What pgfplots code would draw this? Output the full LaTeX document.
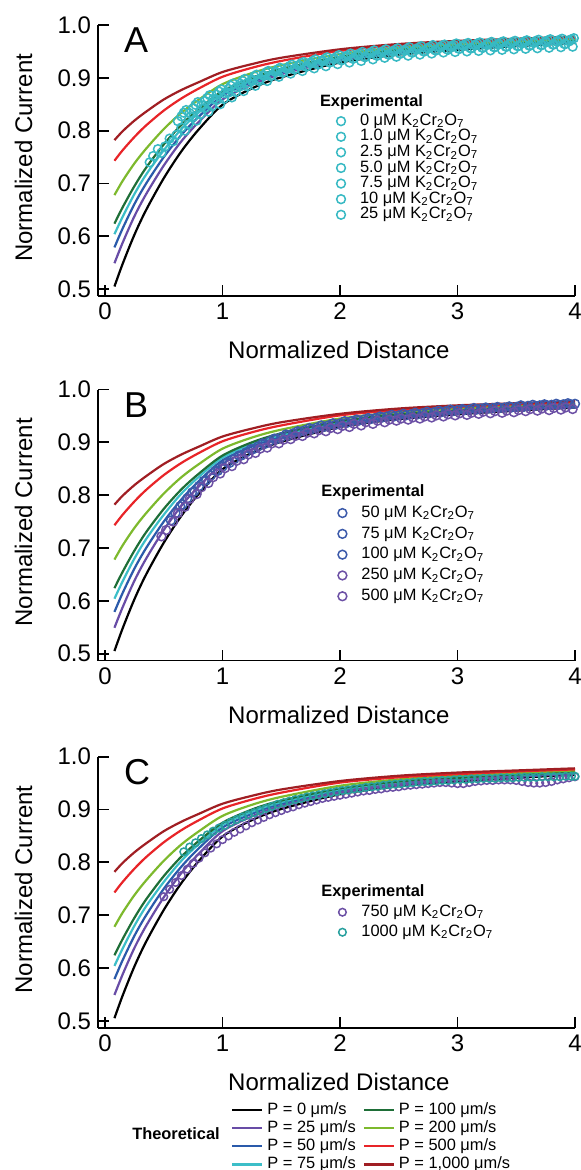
\documentclass[border=0pt]{standalone}
\usepackage{fontspec}
\setmainfont{Liberation Sans}
\usepackage{pgfplots}
\pgfplotsset{compat=1.18}
\usepackage{pgfplotstable}

\definecolor{cP25}{RGB}{104,76,166}
\definecolor{cP50}{RGB}{42,90,170}
\definecolor{cP75}{RGB}{60,190,200}
\definecolor{cP100}{RGB}{30,110,55}
\definecolor{cP200}{RGB}{125,185,45}
\definecolor{cP500}{RGB}{232,36,40}
\definecolor{cP1000}{RGB}{160,30,35}
\definecolor{cyanexp}{RGB}{55,185,195}
\definecolor{blueexp}{RGB}{60,90,170}
\definecolor{purpexp}{RGB}{108,80,165}
\definecolor{tealexp}{RGB}{40,160,158}

\newcommand{\kc}{K\textsubscript{2}Cr\textsubscript{2}O\textsubscript{7}}

\pgfplotstableread{
x     p0    p25   p50   p75   p100  p200  p500  p1000
0.08  0.505 0.549 0.579 0.604 0.624 0.678 0.743 0.782
0.15  0.548 0.588 0.615 0.637 0.655 0.705 0.763 0.799
0.25  0.603 0.638 0.661 0.680 0.695 0.738 0.788 0.819
0.35  0.650 0.680 0.700 0.717 0.730 0.766 0.810 0.836
0.50  0.710 0.734 0.750 0.763 0.774 0.803 0.838 0.859
0.65  0.761 0.780 0.792 0.803 0.811 0.834 0.861 0.877
0.80  0.803 0.817 0.827 0.835 0.841 0.859 0.880 0.892
1.00  0.849 0.859 0.866 0.871 0.875 0.888 0.902 0.911
1.25  0.880 0.887 0.892 0.896 0.900 0.909 0.919 0.926
1.50  0.901 0.907 0.911 0.914 0.917 0.924 0.932 0.938
2.00  0.929 0.933 0.936 0.938 0.940 0.945 0.951 0.954
2.50  0.944 0.947 0.949 0.951 0.953 0.957 0.961 0.964
3.00  0.953 0.956 0.958 0.959 0.960 0.964 0.967 0.970
3.50  0.960 0.962 0.964 0.965 0.966 0.969 0.972 0.974
4.00  0.966 0.968 0.969 0.970 0.971 0.974 0.976 0.978
}\theory

\pgfplotsset{
  panel/.style={
    scale only axis, width=238.5pt, height=135.5pt,
    xmin=-0.06, xmax=4, ymin=0.487, ymax=1.0,
    axis x line*=bottom, axis y line*=left,
    axis line style={line width=0.9pt,-},
    tick align=inside, major tick length=5.5pt,
    tick style={line width=0.9pt, black},
    xtick={0,1,2,3,4}, ytick={0.5,0.6,0.7,0.8,0.9,1.0},
    y tick label style={/pgf/number format/.cd, fixed, fixed zerofill, precision=1, /tikz/.cd},
    /pgf/number format/assume math mode=true,
    tick label style={font=\fontsize{12}{14}\selectfont},
    xlabel={Normalized Distance}, ylabel={Normalized Current},
    label style={font=\fontsize{12}{14}\selectfont},
    xlabel style={at={(axis description cs:0.505,-0.2)}, anchor=center},
    ylabel style={at={(axis description cs:-0.156,0.51)}, anchor=center},
    clip=false,
    legend cell align=left,
    legend style={draw=none, fill=none, inner sep=0pt,
      font=\fontsize{8.2}{9}\selectfont,
      nodes={inner xsep=2pt, inner ysep=0pt, text height=6pt, text depth=1.8pt}},
  },
  exp/.style={only marks, mark=o, mark size=2.2pt, mark options={line width=0.75pt}, color=#1,
    legend image code/.code={\path[draw=none, fill=none] (0pt,-2pt) rectangle (11.5pt,2pt);
      \draw[mark repeat=2,mark phase=2,##1] plot coordinates {(0pt,0pt) (4pt,0pt) (11.5pt,0pt)};}},
}

\newcommand{\theorycurves}{%
  \addplot[black, line width=1.1pt, smooth, forget plot] table[x=x,y=p0]{\theory};
  \addplot[cP25, line width=1.1pt, smooth, forget plot] table[x=x,y=p25]{\theory};
  \addplot[cP50, line width=1.1pt, smooth, forget plot] table[x=x,y=p50]{\theory};
  \addplot[cP75, line width=1.1pt, smooth, forget plot] table[x=x,y=p75]{\theory};
  \addplot[cP100, line width=1.1pt, smooth, forget plot] table[x=x,y=p100]{\theory};
  \addplot[cP200, line width=1.1pt, smooth, forget plot] table[x=x,y=p200]{\theory};
  \addplot[cP500, line width=1.1pt, smooth, forget plot] table[x=x,y=p500]{\theory};
  \addplot[cP1000, line width=1.1pt, smooth, forget plot] table[x=x,y=p1000]{\theory};
}

\begin{document}
\begin{tikzpicture}
\path[use as bounding box] (0pt,0pt) rectangle (290pt,-585pt);

% ---------------- Panel A ----------------
\begin{axis}[panel, at={(49pt,-148pt)}, anchor=south west,
  legend style={at={(axis cs:1.937,0.863)}, anchor=north west, row sep=0pt}]
\theorycurves
\addlegendimage{empty legend}
\addlegendentry{\hspace{-20pt}\raisebox{1.8pt}{\textbf{Experimental}}}
\addplot[exp=cyanexp] coordinates {(0.38,0.740) (0.48,0.758) (0.58,0.780) (0.68,0.800) (0.78,0.819) (0.88,0.836) (0.98,0.850) (1.08,0.863) (1.18,0.875) (1.28,0.885) (1.38,0.894) (1.48,0.902) (1.58,0.908) (1.68,0.913) (1.78,0.918) (1.88,0.922) (1.98,0.926) (2.08,0.929) (2.18,0.932) (2.28,0.935) (2.38,0.938) (2.48,0.940) (2.58,0.942) (2.68,0.944) (2.78,0.946) (2.88,0.948) (2.98,0.949) (3.08,0.950) (3.18,0.951) (3.28,0.952) (3.38,0.953) (3.48,0.954) (3.58,0.955) (3.68,0.956) (3.78,0.957) (3.88,0.958) (3.98,0.959)};
\addlegendentry{0 μM \kc}
\addplot[exp=cyanexp] coordinates {(0.41,0.752) (0.51,0.770) (0.61,0.792) (0.71,0.812) (0.81,0.831) (0.91,0.846) (1.01,0.860) (1.11,0.873) (1.21,0.884) (1.31,0.894) (1.41,0.903) (1.51,0.910) (1.61,0.916) (1.71,0.921) (1.81,0.925) (1.91,0.929) (2.01,0.933) (2.11,0.936) (2.21,0.939) (2.31,0.942) (2.41,0.944) (2.51,0.946) (2.61,0.948) (2.71,0.950) (2.81,0.952) (2.91,0.954) (3.01,0.955) (3.11,0.956) (3.21,0.957) (3.31,0.958) (3.41,0.959) (3.51,0.960) (3.61,0.961) (3.71,0.962) (3.81,0.963) (3.91,0.964)};
\addlegendentry{1.0 μM \kc}
\addplot[exp=cyanexp] coordinates {(0.45,0.765) (0.55,0.785) (0.65,0.806) (0.75,0.826) (0.85,0.843) (0.95,0.858) (1.05,0.872) (1.15,0.884) (1.25,0.894) (1.35,0.904) (1.45,0.912) (1.55,0.918) (1.65,0.924) (1.75,0.929) (1.85,0.933) (1.95,0.937) (2.05,0.941) (2.15,0.944) (2.25,0.947) (2.35,0.949) (2.45,0.951) (2.55,0.953) (2.65,0.955) (2.75,0.957) (2.85,0.959) (2.95,0.961) (3.05,0.962) (3.15,0.963) (3.25,0.964) (3.35,0.965) (3.45,0.966) (3.55,0.967) (3.65,0.968) (3.75,0.969) (3.85,0.970) (3.95,0.971)};
\addlegendentry{2.5 μM \kc}
\addplot[exp=cyanexp] coordinates {(0.62,0.818) (0.72,0.833) (0.82,0.848) (0.92,0.860) (1.02,0.871) (1.12,0.882) (1.22,0.891) (1.32,0.898) (1.42,0.905) (1.52,0.911) (1.62,0.917) (1.72,0.922) (1.82,0.926) (1.92,0.930) (2.02,0.934) (2.12,0.937) (2.22,0.940) (2.32,0.942) (2.42,0.944) (2.52,0.946) (2.62,0.948) (2.72,0.950) (2.82,0.952) (2.92,0.953) (3.02,0.955) (3.12,0.956) (3.22,0.957) (3.32,0.958) (3.42,0.959) (3.52,0.960) (3.62,0.961) (3.72,0.962) (3.82,0.963) (3.92,0.964)};
\addlegendentry{5.0 μM \kc}
\addplot[exp=cyanexp] coordinates {(0.65,0.827) (0.75,0.842) (0.85,0.856) (0.95,0.868) (1.05,0.879) (1.15,0.889) (1.25,0.897) (1.35,0.905) (1.45,0.911) (1.55,0.917) (1.65,0.923) (1.75,0.927) (1.85,0.931) (1.95,0.935) (2.05,0.939) (2.15,0.942) (2.25,0.945) (2.35,0.947) (2.45,0.949) (2.55,0.951) (2.65,0.953) (2.75,0.955) (2.85,0.957) (2.95,0.958) (3.05,0.960) (3.15,0.961) (3.25,0.962) (3.35,0.963) (3.45,0.964) (3.55,0.965) (3.65,0.966) (3.75,0.967) (3.85,0.968) (3.95,0.969)};
\addlegendentry{7.5 μM \kc}
\addplot[exp=cyanexp] coordinates {(0.67,0.834) (0.77,0.849) (0.87,0.862) (0.97,0.874) (1.07,0.885) (1.17,0.894) (1.27,0.903) (1.37,0.910) (1.47,0.916) (1.57,0.922) (1.67,0.928) (1.77,0.932) (1.87,0.936) (1.97,0.940) (2.07,0.943) (2.17,0.946) (2.27,0.949) (2.37,0.951) (2.47,0.953) (2.57,0.955) (2.67,0.957) (2.77,0.959) (2.87,0.961) (2.97,0.962) (3.07,0.964) (3.17,0.965) (3.27,0.966) (3.37,0.967) (3.47,0.968) (3.57,0.969) (3.67,0.970) (3.77,0.971) (3.87,0.972) (3.97,0.973)};
\addlegendentry{10 μM \kc}
\addplot[exp=cyanexp] coordinates {(0.69,0.839) (0.79,0.854) (0.89,0.867) (0.99,0.878) (1.09,0.889) (1.19,0.898) (1.29,0.906) (1.39,0.913) (1.49,0.919) (1.59,0.925) (1.69,0.930) (1.79,0.935) (1.89,0.939) (1.99,0.943) (2.09,0.946) (2.19,0.949) (2.29,0.952) (2.39,0.954) (2.49,0.956) (2.59,0.958) (2.69,0.960) (2.79,0.962) (2.89,0.963) (2.99,0.965) (3.09,0.966) (3.19,0.967) (3.29,0.968) (3.39,0.969) (3.49,0.970) (3.59,0.971) (3.69,0.972) (3.79,0.973) (3.89,0.974) (3.99,0.975)};
\addlegendentry{25 μM \kc}
\node[anchor=base west, font=\fontsize{18}{20}\selectfont] at (rel axis cs:0.04,0.898) {A};
\end{axis}

% ---------------- Panel B ----------------
\begin{axis}[panel, at={(49pt,-330.25pt)}, anchor=south west,
  legend style={at={(axis cs:1.949,0.821)}, anchor=north west, row sep=2.6pt}]
\theorycurves
\addlegendimage{empty legend}
\addlegendentry{\hspace{-20pt}\textbf{Experimental}}
\addplot[exp=blueexp] coordinates {(0.64,0.779) (0.74,0.805) (0.84,0.827) (0.94,0.846) (1.04,0.862) (1.14,0.875) (1.24,0.887) (1.34,0.898) (1.44,0.907) (1.54,0.915) (1.64,0.921) (1.74,0.927) (1.84,0.932) (1.94,0.936) (2.04,0.940) (2.14,0.943) (2.24,0.946) (2.34,0.949) (2.44,0.952) (2.54,0.954) (2.64,0.956) (2.74,0.958) (2.84,0.960) (2.94,0.962) (3.04,0.963) (3.14,0.965) (3.24,0.966) (3.34,0.967) (3.44,0.968) (3.54,0.970) (3.64,0.971) (3.74,0.972) (3.84,0.973) (3.94,0.974)};
\addlegendentry{50 μM \kc}
\addplot[exp=blueexp] coordinates {(0.60,0.766) (0.70,0.794) (0.80,0.817) (0.90,0.837) (1.00,0.854) (1.10,0.868) (1.20,0.881) (1.30,0.892) (1.40,0.902) (1.50,0.910) (1.60,0.917) (1.70,0.923) (1.80,0.928) (1.90,0.932) (2.00,0.936) (2.10,0.940) (2.20,0.943) (2.30,0.946) (2.40,0.949) (2.50,0.951) (2.60,0.953) (2.70,0.955) (2.80,0.957) (2.90,0.959) (3.00,0.961) (3.10,0.962) (3.20,0.964) (3.30,0.965) (3.40,0.966) (3.50,0.967) (3.60,0.969) (3.70,0.970) (3.80,0.971) (3.90,0.972) (4.00,0.973)};
\addlegendentry{75 μM \kc}
\addplot[exp=blueexp] coordinates {(0.56,0.752) (0.66,0.782) (0.76,0.807) (0.86,0.828) (0.96,0.846) (1.06,0.861) (1.16,0.875) (1.26,0.887) (1.36,0.897) (1.46,0.906) (1.56,0.913) (1.66,0.920) (1.76,0.925) (1.86,0.929) (1.96,0.933) (2.06,0.937) (2.16,0.941) (2.26,0.944) (2.36,0.947) (2.46,0.949) (2.56,0.951) (2.66,0.953) (2.76,0.955) (2.86,0.957) (2.96,0.959) (3.06,0.961) (3.16,0.962) (3.26,0.964) (3.36,0.965) (3.46,0.966) (3.56,0.967) (3.66,0.969) (3.76,0.970) (3.86,0.971) (3.96,0.972)};
\addlegendentry{100 μM \kc}
\addplot[exp=purpexp] coordinates {(0.52,0.734) (0.62,0.766) (0.72,0.793) (0.82,0.815) (0.92,0.834) (1.02,0.851) (1.12,0.865) (1.22,0.877) (1.32,0.888) (1.42,0.898) (1.52,0.905) (1.62,0.912) (1.72,0.918) (1.82,0.923) (1.92,0.927) (2.02,0.931) (2.12,0.935) (2.22,0.938) (2.32,0.941) (2.42,0.943) (2.52,0.945) (2.62,0.947) (2.72,0.949) (2.82,0.951) (2.92,0.953) (3.02,0.955) (3.12,0.956) (3.22,0.958) (3.32,0.959) (3.42,0.960) (3.52,0.961) (3.62,0.963) (3.72,0.964) (3.82,0.965) (3.92,0.966)};
\addlegendentry{250 μM \kc}
\addplot[exp=purpexp] coordinates {(0.48,0.722) (0.58,0.750) (0.68,0.778) (0.78,0.802) (0.88,0.823) (0.98,0.841) (1.08,0.855) (1.18,0.868) (1.28,0.880) (1.38,0.890) (1.48,0.898) (1.58,0.906) (1.68,0.912) (1.78,0.917) (1.88,0.921) (1.98,0.925) (2.08,0.929) (2.18,0.932) (2.28,0.935) (2.38,0.938) (2.48,0.941) (2.58,0.943) (2.68,0.945) (2.78,0.947) (2.88,0.949) (2.98,0.951) (3.08,0.952) (3.18,0.954) (3.28,0.955) (3.38,0.956) (3.48,0.957) (3.58,0.959) (3.68,0.960) (3.78,0.961) (3.88,0.962) (3.98,0.963)};
\addlegendentry{500 μM \kc}
\node[anchor=base west, font=\fontsize{18}{20}\selectfont] at (rel axis cs:0.04,0.898) {B};
\end{axis}

% ---------------- Panel C ----------------
\begin{axis}[panel, at={(49pt,-513.85pt)}, anchor=south west,
  legend style={at={(axis cs:1.949,0.759)}, anchor=north west, row sep=2.2pt}]
\theorycurves
\addlegendimage{empty legend}
\addlegendentry{\hspace{-20pt}\textbf{Experimental}}
\addplot[exp=purpexp, mark size=1.9pt] coordinates {(0.50,0.735) (0.55,0.749) (0.60,0.762) (0.65,0.775) (0.70,0.787) (0.75,0.798) (0.80,0.808) (0.85,0.818) (0.90,0.827) (0.95,0.835) (1.00,0.843) (1.05,0.850) (1.10,0.857) (1.15,0.863) (1.20,0.869) (1.25,0.875) (1.30,0.880) (1.35,0.885) (1.40,0.890) (1.45,0.894) (1.50,0.898) (1.55,0.902) (1.60,0.905) (1.65,0.909) (1.70,0.912) (1.75,0.915) (1.80,0.918) (1.85,0.921) (1.90,0.923) (1.95,0.925) (2.00,0.927) (2.05,0.929) (2.10,0.931) (2.15,0.933) (2.20,0.935) (2.25,0.936) (2.30,0.938) (2.35,0.939) (2.40,0.941) (2.45,0.942) (2.50,0.943) (2.55,0.945) (2.60,0.946) (2.65,0.947) (2.70,0.948) (2.75,0.949) (2.80,0.950) (2.85,0.951) (2.90,0.951) (2.95,0.950) (3.00,0.949) (3.05,0.949) (3.10,0.951) (3.15,0.953) (3.20,0.954) (3.25,0.955) (3.30,0.955) (3.35,0.956) (3.40,0.956) (3.45,0.956) (3.50,0.955) (3.55,0.953) (3.60,0.951) (3.65,0.950) (3.70,0.950) (3.75,0.951) (3.80,0.953) (3.85,0.956) (3.90,0.958) (3.95,0.960) (4.00,0.962)};
\addlegendentry{750 μM \kc}
\addplot[exp=tealexp, mark size=1.9pt] coordinates {(0.67,0.820) (0.72,0.829) (0.77,0.837) (0.82,0.845) (0.87,0.852) (0.92,0.859) (0.97,0.865) (1.02,0.870) (1.07,0.876) (1.12,0.881) (1.17,0.886) (1.22,0.890) (1.27,0.894) (1.32,0.898) (1.37,0.902) (1.42,0.906) (1.47,0.910) (1.52,0.913) (1.57,0.916) (1.62,0.919) (1.67,0.921) (1.72,0.924) (1.77,0.926) (1.82,0.928) (1.87,0.930) (1.92,0.932) (1.97,0.934) (2.02,0.936) (2.07,0.937) (2.12,0.939) (2.17,0.940) (2.22,0.942) (2.27,0.943) (2.32,0.944) (2.37,0.946) (2.42,0.947) (2.47,0.948) (2.52,0.949) (2.57,0.950) (2.62,0.951) (2.67,0.952) (2.72,0.953) (2.77,0.953) (2.82,0.954) (2.87,0.955) (2.92,0.955) (2.97,0.956) (3.02,0.957) (3.07,0.957) (3.12,0.958) (3.17,0.958) (3.22,0.959) (3.27,0.959) (3.32,0.959) (3.37,0.960) (3.42,0.960) (3.47,0.960) (3.52,0.961) (3.57,0.961) (3.62,0.961) (3.67,0.961) (3.72,0.962) (3.77,0.962) (3.82,0.962) (3.87,0.962) (3.92,0.963) (3.97,0.963) (4.00,0.963)};
\addlegendentry{1000 μM \kc}
\node[anchor=base west, font=\fontsize{18}{20}\selectfont] at (rel axis cs:0.04,0.898) {C};
\end{axis}

% ---------------- Theoretical legend ----------------
\begin{axis}[hide axis, scale only axis, width=290pt, height=10pt,
  at={(0pt,-585pt)}, anchor=south west, xmin=0, xmax=1, ymin=0, ymax=1,
  legend columns=2, legend cell align=left,
  legend style={at={(0.398,3.42)}, anchor=north west, draw=none, fill=none, inner sep=0pt,
    font=\fontsize{8.2}{9}\selectfont,
    nodes={inner xsep=2pt, inner ysep=0pt, text height=6pt, text depth=1.8pt},
    row sep=1.3pt, /tikz/every even column/.append style={column sep=1.5pt}},
  legend image code/.code={\draw[#1] (0pt,0pt) -- (15pt,0pt);}]
\addlegendimage{black, line width=1.1pt}\addlegendentry{P = 0 μm/s}
\addlegendimage{cP100, line width=1.1pt}\addlegendentry{P = 100 μm/s}
\addlegendimage{cP25, line width=1.1pt}\addlegendentry{P = 25 μm/s}
\addlegendimage{cP200, line width=1.1pt}\addlegendentry{P = 200 μm/s}
\addlegendimage{cP50, line width=1.1pt}\addlegendentry{P = 50 μm/s}
\addlegendimage{cP500, line width=1.1pt}\addlegendentry{P = 500 μm/s}
\addlegendimage{cP75, line width=1.1pt}\addlegendentry{P = 75 μm/s}
\addlegendimage{cP1000, line width=1.1pt}\addlegendentry{P = 1,000 μm/s}
\end{axis}
\node[font=\bfseries\fontsize{8.2}{9}\selectfont] at (88pt,-567pt) {Theoretical};
\end{tikzpicture}
\end{document}
